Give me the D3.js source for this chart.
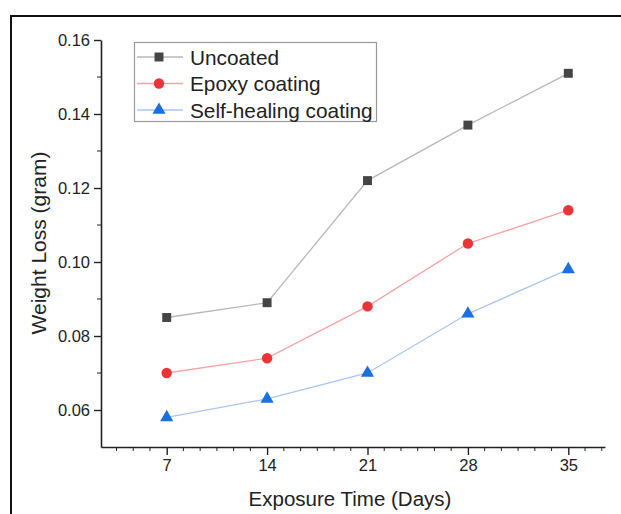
<!DOCTYPE html>
<html><head><meta charset="utf-8">
<script src="https://cdn.jsdelivr.net/npm/d3@7"></script>
<style>body{margin:0;background:#fff}svg{display:block}text{font-family:"Liberation Sans",Arial,sans-serif;fill:#222}</style>
</head><body><svg id="c" width="621" height="514"></svg>
<script>
const days = [7, 14, 21, 28, 35];
const uncoated = [0.085, 0.089, 0.122, 0.137, 0.151];
const epoxy = [0.070, 0.074, 0.088, 0.105, 0.114];
const selfHealing = [0.058, 0.063, 0.070, 0.086, 0.098];
const seriesNames = ["Uncoated", "Epoxy coating", "Self-healing coating"];
const yTickValues = [0.06, 0.08, 0.10, 0.12, 0.14, 0.16];
const xTickValues = [7, 14, 21, 28, 35];

const svg = d3.select("#c");
// outer frame
svg.append("path").attr("d", "M11,514V16H621").attr("fill", "none").attr("stroke", "#111").attr("stroke-width", 2);

const pxPerDay = (568.3 - 166.7) / 28;
const x = d3.scaleLinear().domain([7 - (166.7 - 101) / pxPerDay, 35 + (605 - 568.3) / pxPerDay]).range([101, 605]);
const y = d3.scaleLinear().domain([0.05, 0.16]).range([447, 40]);

const series = [
  {name: seriesNames[0], vals: uncoated, line: "#b8b8b8", mark: "#454545", sym: d3.symbolSquare, size: 80},
  {name: seriesNames[1], vals: epoxy, line: "#f7a3a5", mark: "#ec3338", sym: d3.symbolCircle, size: 85},
  {name: seriesNames[2], vals: selfHealing, line: "#a9c6f2", mark: "#1b6fdf", sym: d3.symbolTriangle, size: 75}
];

// axes
const yAxis = d3.axisLeft(y).tickValues(yTickValues).tickFormat(d3.format(".2f")).tickSize(7).tickSizeOuter(0);
const gy = svg.append("g").attr("transform", "translate(101,0)").call(yAxis);
gy.selectAll("text").attr("font-size", 16.5).attr("x", -11);
const yMinor = [0.07, 0.09, 0.11, 0.13, 0.15];
gy.selectAll(".minor").data(yMinor).enter().append("line").attr("class", "minor")
  .attr("x1", 0).attr("x2", -4).attr("y1", d => y(d)).attr("y2", d => y(d)).attr("stroke", "#222");

const xAxis = d3.axisBottom(x).tickValues(xTickValues).tickSize(8).tickSizeOuter(0);
const gx = svg.append("g").attr("transform", "translate(0,447)").call(xAxis);
gx.selectAll("text").attr("font-size", 16.5).attr("y", 12);
const xMinor = [];
for (let k = -3; k <= 26; k++) { if (k % 6 !== 0) xMinor.push(7 + k * 7 / 6); }
gx.selectAll(".minor").data(xMinor).enter().append("line").attr("class", "minor")
  .attr("x1", d => x(d)).attr("x2", d => x(d)).attr("y1", 0).attr("y2", 4).attr("stroke", "#222");
[gx, gy].forEach(g => { g.select(".domain").attr("stroke", "#222").attr("stroke-width", 1.6); g.selectAll(".tick line").attr("stroke", "#222").attr("stroke-width", 1.4); g.selectAll("text").attr("fill", "#222").attr("font-family", "Liberation Sans, Arial, sans-serif"); });

// titles
svg.append("text").attr("x", 350).attr("y", 506).attr("text-anchor", "middle").attr("font-size", 20.5).text("Exposure Time (Days)");
svg.append("text").attr("transform", "translate(46,243) rotate(-90)").attr("text-anchor", "middle").attr("font-size", 21).text("Weight Loss (gram)");

// lines + markers
const line = d3.line().x((d, i) => x(days[i])).y(d => y(d));
series.forEach(s => {
  svg.append("path").attr("d", line(s.vals)).attr("fill", "none").attr("stroke", s.line).attr("stroke-width", 1.3);
});
series.forEach(s => {
  svg.selectAll(null).data(s.vals).enter().append("path")
    .attr("d", d3.symbol().type(s.sym).size(s.size))
    .attr("transform", (d, i) => `translate(${x(days[i])},${y(d)})`)
    .attr("fill", s.mark);
});

// legend
const lg = svg.append("g");
lg.append("rect").attr("x", 134.5).attr("y", 42.5).attr("width", 242).attr("height", 79).attr("fill", "#fff").attr("stroke", "#999").attr("stroke-width", 1.2);
series.forEach((s, i) => {
  const cy = 57 + i * 26.5;
  lg.append("line").attr("x1", 137).attr("x2", 183).attr("y1", cy).attr("y2", cy).attr("stroke", s.line).attr("stroke-width", 1.3);
  lg.append("path").attr("d", d3.symbol().type(s.sym).size(s.size)).attr("transform", `translate(159,${cy})`).attr("fill", s.mark);
  lg.append("text").attr("x", 190).attr("y", cy + 7.5).attr("font-size", 20.8).text(s.name);
});
</script></body></html>
